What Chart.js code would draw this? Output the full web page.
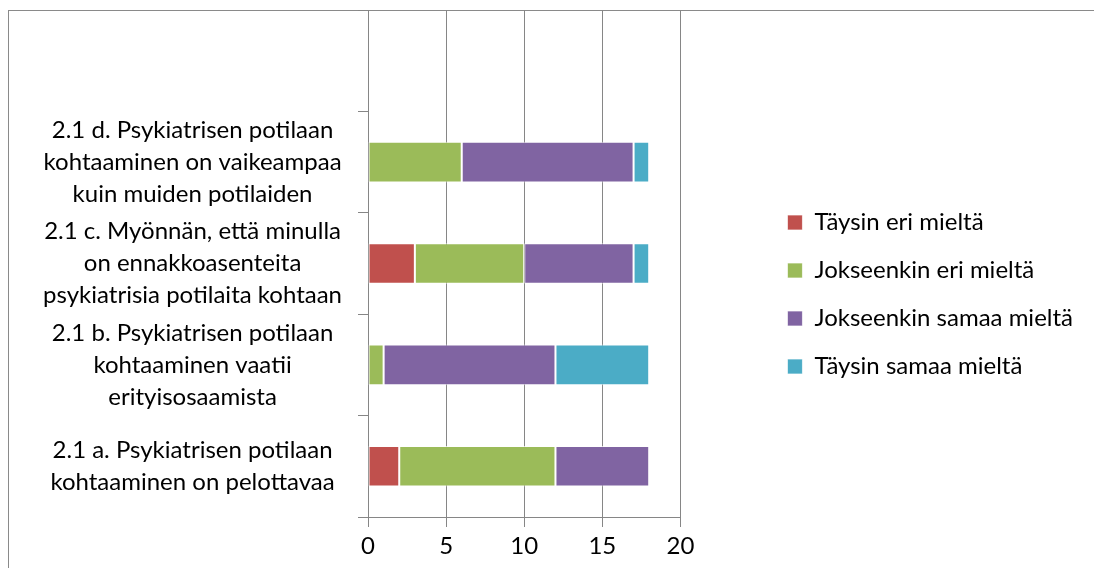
<!DOCTYPE html>
<html>
<head>
<meta charset="utf-8">
<title>Psykiatrisen potilaan kohtaaminen</title>
<script src="https://cdn.jsdelivr.net/npm/chart.js"></script>
<style>
  body { margin: 0; background: #fff; overflow: hidden; }
  #wrap { position: relative; width: 1094px; height: 568px; }
  #frame {
    position: absolute; left: 8px; top: 10px; right: -10px; bottom: -10px;
    border: 1px solid #8a8a8a;
  }
  #chart { position: absolute; left: 0; top: 0; }
</style>
</head>
<body>
<div id="wrap">
  <div id="frame"></div>
  <canvas id="chart" width="1094" height="568"></canvas>
</div>
<script>
// categories top to bottom (top slot is empty in the original sheet)
var categories = [
  [''],
  ['2.1 d. Psykiatrisen potilaan', 'kohtaaminen on vaikeampaa', 'kuin muiden potilaiden'],
  ['2.1 c. Myönnän, että minulla', 'on ennakkoasenteita', 'psykiatrisia potilaita kohtaan'],
  ['2.1 b. Psykiatrisen potilaan', 'kohtaaminen vaatii', 'erityisosaamista'],
  ['2.1 a. Psykiatrisen potilaan', 'kohtaaminen on pelottavaa']
];
var seriesNames = ['Täysin eri mieltä', 'Jokseenkin eri mieltä', 'Jokseenkin samaa mieltä', 'Täysin samaa mieltä'];
var taysinEri       = [null, 0, 3, 0, 2];
var jokseenkinEri   = [null, 6, 7, 1, 10];
var jokseenkinSamaa = [null, 11, 7, 11, 6];
var taysinSamaa     = [null, 1, 1, 6, 0];
var xTicks = [0, 5, 10, 15, 20];

var colors = ['#c0504d', '#9bbb59', '#8064a2', '#4bacc6'];
var values = [taysinEri, jokseenkinEri, jokseenkinSamaa, taysinSamaa];
var font = "Lato, Carlito, 'Liberation Sans', sans-serif";
var gridColor = '#868686';

var datasets = values.map(function (v, i) {
  return {
    label: seriesNames[i],
    data: v,
    backgroundColor: colors[i],
    borderColor: 'rgba(255,255,255,0.7)',
    borderWidth: 1,
    borderSkipped: false,
    barPercentage: 0.4,
    categoryPercentage: 1
  };
});

// no extra padding from label heights, plot starts right at the frame
function noPad(s) {
  s.paddingTop = 0;
  s.paddingBottom = 0;
}

var ctx = document.getElementById('chart').getContext('2d');
var chart = new Chart(ctx, {
  type: 'bar',
  data: { labels: categories, datasets: datasets },
  options: {
    indexAxis: 'y',
    responsive: false,
    animation: false,
    layout: { padding: { top: 10, right: 11, bottom: 0, left: 0 } },
    scales: {
      x: {
        stacked: true,
        min: 0,
        max: 20,
        afterBuildTicks: function (s) { s.ticks = xTicks.map(function (t) { return { value: t }; }); },
        afterFit: function (s) { s.height = 51; },
        grid: { color: gridColor, lineWidth: 1, tickLength: 10 },
        border: { color: gridColor },
        ticks: { color: '#000', padding: 5, font: { family: font, size: 24 } }
      },
      y: {
        stacked: true,
        afterFit: function (s) { s.width = 368; noPad(s); },
        grid: { drawOnChartArea: false, color: gridColor, tickLength: 10 },
        border: { color: gridColor },
        ticks: {
          color: '#000',
          autoSkip: false,
          crossAlign: 'center',
          padding: 16,
          font: { family: font, size: 24, lineHeight: 1.333 }
        }
      },
      y2: {
        position: 'right',
        afterFit: function (s) { s.width = 83; noPad(s); },
        grid: { display: false },
        border: { display: false },
        ticks: { display: false }
      }
    },
    plugins: {
      tooltip: { enabled: false },
      legend: {
        position: 'right',
        maxWidth: 420,
        // empty title only nudges the item column down a little
        title: { display: true, text: ' ', font: { size: 1, lineHeight: 1 }, padding: { top: 10, bottom: 0 } },
        labels: {
          color: '#000',
          boxWidth: 15,
          boxHeight: 15,
          padding: 24,
          font: { family: font, size: 24 }
        }
      }
    }
  }
});
</script>
</body>
</html>
